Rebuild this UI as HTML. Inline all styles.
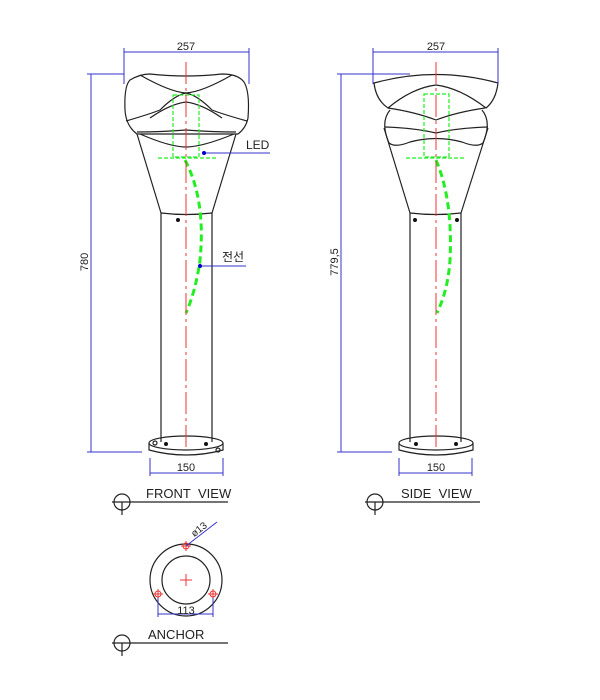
<!DOCTYPE html>
<html><head><meta charset="utf-8"><style>body{margin:0;background:#fff}svg{display:block}</style></head><body>
<svg width="600" height="700" viewBox="0 0 600 700" xmlns="http://www.w3.org/2000/svg" font-family="Liberation Sans, sans-serif">
<rect width="600" height="700" fill="#fff"/>
<g fill="none" stroke="#222" stroke-width="1.2">
<!-- FRONT head -->
<path d="M130,80 Q140,74 150,74 Q186,78 222,74 Q238,74 244,82 Q250,92 248,118 Q246,128 238,134 L137,134 Q126,126 125,110 Q124,86 130,80Z"/>
<path d="M140,75 Q170,92 186,93 Q202,92 232,75"/>
<path d="M126,121 Q150,114 160,110 Q175,95 186,93 Q197,95 212,110 Q222,114 247,121"/>
<path d="M150,118 Q170,104 186,102 Q202,104 222,118"/>
<path d="M137,132 Q160,132 186,130 Q212,132 236,132"/>
<path d="M140,134 Q170,147 186,147 Q202,147 234,134"/>
<path d="M137,134 L161,213 M236,134 L212,213"/>
<path d="M161,213 Q186,216 212,213"/>
<path d="M161,213 L161,442 M212,213 L212,442"/>
<ellipse cx="186" cy="443" rx="37" ry="7"/>
<path d="M149,443 L149,450 Q186,460 223,450 L223,443"/>
<circle cx="155" cy="443" r="2"/><circle cx="218" cy="450" r="2"/>
<!-- SIDE head -->
<path d="M374,83 Q436,66 498,83 Q496,100 486,108 Q460,88 436,85 Q412,88 388,108 Q376,100 374,83Z"/>
<path d="M388,108 Q415,112 436,120 Q457,112 485,108"/>
<path d="M390,110 Q380,122 389,143 Q395,148 410,142 Q436,135 462,142 Q477,148 483,143 Q492,122 482,110"/>
<path d="M385,127 Q415,128 436,133 Q457,128 488,127"/>
<path d="M384,128 L410,213 M488,128 L461,213"/>
<path d="M410,213 Q436,216 461,213"/>
<path d="M410,213 L410,442 M461,213 L461,442"/>
<ellipse cx="436" cy="443" rx="37" ry="7"/>
<path d="M399,443 L399,450 Q436,460 473,450 L473,443"/>
<circle cx="186" cy="580" r="36"/>
<circle cx="186" cy="580" r="24"/>
</g>
<g fill="#111"><circle cx="178" cy="220" r="2"/><circle cx="166" cy="444" r="2"/><circle cx="206" cy="444" r="2"/>
<circle cx="415" cy="220" r="2"/><circle cx="457" cy="220" r="2"/><circle cx="416" cy="444" r="2"/><circle cx="456" cy="444" r="2"/></g>
<g fill="none" stroke="#2e2" stroke-width="1.2" stroke-dasharray="4,2">
<rect x="173" y="95" width="26" height="62"/>
<rect x="424" y="94" width="25" height="63"/>
<path d="M158,158 h60 M406,158 h60"/>
</g>
<g fill="none" stroke="#2e2" stroke-width="3" stroke-dasharray="7,4">
<path d="M185,160 Q206,200 200,260 Q196,290 186,313"/>
<path d="M436,160 Q453,200 450,260 Q448,290 437,313"/>
</g>
<g stroke="#e33" stroke-width="1" stroke-dasharray="22,4,3,4">
<path d="M186,62 V450 M436,62 V450"/>
</g>
<g stroke="#e33" fill="none"><path d="M180,580 h12 M186,574 v12"/>
<circle cx="186" cy="546" r="3"/><circle cx="158" cy="594" r="3"/><circle cx="213" cy="594" r="3"/>
<path d="M181,546 h10 M186,541 v10 M153,594 h10 M158,589 v10 M208,594 h10 M213,589 v10"/></g>
<g stroke="#33c" stroke-width="1" fill="none">
<path d="M124,52 H249 M124,48 V84 M249,48 V84"/>
<path d="M373,52 H498 M373,48 V84 M498,48 V84"/>
<path d="M91,74 V452 M87,74 H124 M87,452 H142"/>
<path d="M341,74 V452 M337,74 H410 M337,452 H392"/>
<path d="M150,473 H223 M150,458 V476 M223,458 V476"/>
<path d="M399,473 H472 M399,458 V476 M472,458 V476"/>
<path d="M158,614 H213 M158,598 V617 M213,598 V617"/>
<path d="M186,546 L217,522"/>
<path d="M204,153 H270 M200,266 H246"/>
</g>
<g fill="#00c"><circle cx="204" cy="153" r="2"/><circle cx="200" cy="266" r="2"/></g>
<g stroke="#222" fill="none" stroke-width="1.2">
<circle cx="122" cy="502" r="8"/><path d="M112,502 H228 M122,502 V515"/>
<circle cx="375" cy="502" r="8"/><path d="M365,502 H480 M375,502 V515"/>
<circle cx="122" cy="643" r="8"/><path d="M112,643 H228 M122,643 V656"/>
</g>
<g fill="#222" font-size="11">
<text x="186" y="50" text-anchor="middle">257</text>
<text x="436" y="50" text-anchor="middle">257</text>
<text x="186" y="471" text-anchor="middle">150</text>
<text x="436" y="471" text-anchor="middle">150</text>
<text x="186" y="614" text-anchor="middle">113</text>
<text x="246" y="149" font-size="12">LED</text>
<text x="222" y="261" font-size="12" font-family="Liberation Sans, Noto Sans CJK KR, sans-serif">전선</text>
<text transform="translate(88,262) rotate(-90)" text-anchor="middle">780</text>
<text transform="translate(338,262) rotate(-90)" text-anchor="middle">779,5</text>
<text transform="translate(201,532) rotate(-38)" text-anchor="middle" font-size="10">ø13</text>
<text x="146" y="498" font-size="13">FRONT&#160;&#160;VIEW</text>
<text x="401" y="498" font-size="13">SIDE&#160;&#160;VIEW</text>
<text x="148" y="639" font-size="13">ANCHOR</text>
</g>
</svg>
</body></html>
